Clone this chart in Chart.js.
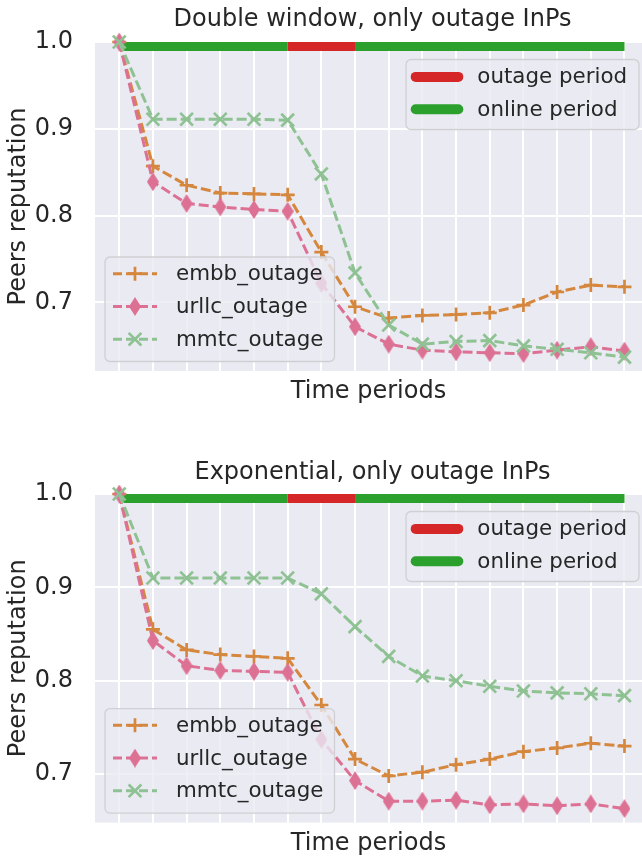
<!DOCTYPE html>
<html><head><meta charset="utf-8">
<script src="https://cdn.jsdelivr.net/npm/chart.js@4/dist/chart.umd.min.js"></script>
<style>
html,body{margin:0;padding:0;background:#fff;overflow:hidden;width:642px;height:859px;}
canvas{position:absolute;left:0;}
#c1{top:0px}
#c2{top:430px}
</style></head><body>
<canvas id="c1" width="642" height="430"></canvas>
<canvas id="c2" width="642" height="429"></canvas>
<script>
// ---- data ----
const periods = [0,1,2,3,4,5,6,7,8,9,10,11,12,13,14,15];
const yTicks = [0.7, 0.8, 0.9, 1.0];
const seriesNames = ['embb_outage','urllc_outage','mmtc_outage'];

// Double window, only outage InPs
const dwEmbb  = [1.0,0.857,0.835,0.826,0.825,0.824,0.758,0.695,0.682,0.685,0.686,0.688,0.697,0.712,0.720,0.718];
const dwUrllc = [1.0,0.839,0.814,0.810,0.807,0.805,0.722,0.672,0.652,0.645,0.643,0.642,0.641,0.645,0.649,0.644];
const dwMmtc  = [1.0,0.911,0.911,0.911,0.911,0.910,0.848,0.734,0.674,0.652,0.655,0.656,0.650,0.646,0.642,0.637];

// Exponential, only outage InPs
const exEmbb  = [1.0,0.855,0.833,0.828,0.826,0.824,0.774,0.716,0.698,0.702,0.710,0.716,0.724,0.728,0.733,0.730];
const exUrllc = [1.0,0.843,0.816,0.811,0.810,0.809,0.737,0.693,0.671,0.671,0.672,0.667,0.668,0.666,0.668,0.663];
const exMmtc  = [1.0,0.910,0.910,0.910,0.910,0.910,0.893,0.858,0.826,0.805,0.800,0.794,0.789,0.787,0.786,0.784];

// period bar: online / outage intervals (in periods)
const periodLevel = 1.0;
const onlineIntervals = [[0,5],[7,15]];
const outageIntervals = [[5,7]];
const periodLabels = ['outage period','online period'];

// ---- styles ----
const TEXT = '#262626';
const FONT = "'DejaVu Sans', sans-serif";
const BIG = 24, LEG = 21.4;
const COLORS = ['#d5873e', '#dd7194', '#8fc293'];
const RED = '#d62728', GREEN = '#2ca02c';
Chart.defaults.font.family = FONT;
Chart.defaults.color = TEXT;

function thinDiamond(color, w, h) {
  const c = document.createElement('canvas');
  c.width = w; c.height = h;
  const g = c.getContext('2d');
  g.fillStyle = color;
  g.beginPath(); g.moveTo(w/2,0); g.lineTo(w,h/2); g.lineTo(w/2,h); g.lineTo(0,h/2); g.closePath(); g.fill();
  return c;
}
const diamondImg = thinDiamond(COLORS[1], 12, 19);
const markers = [
  {pointStyle:'cross', pointRadius:7, pointBorderWidth:2.7},
  {pointStyle:diamondImg, pointRadius:8, pointBorderWidth:0},
  {pointStyle:'crossRot', pointRadius:9, pointBorderWidth:2.7}
];

function intervalData(intervals) {
  const out = [];
  intervals.forEach((iv, k) => {
    if (k > 0) out.push({x:(intervals[k-1][1]+iv[0])/2, y:null});
    out.push({x:iv[0], y:periodLevel});
    out.push({x:iv[1], y:periodLevel});
  });
  return out;
}

function drawMarker(ctx, k, x, y) {
  const c = COLORS[k];
  ctx.save();
  ctx.setLineDash([]);
  ctx.strokeStyle = c; ctx.lineWidth = 2.7;
  if (k === 0) {
    ctx.beginPath(); ctx.moveTo(x-7,y); ctx.lineTo(x+7,y); ctx.moveTo(x,y-7); ctx.lineTo(x,y+7); ctx.stroke();
  } else if (k === 1) {
    ctx.drawImage(diamondImg, x-6, y-9.5);
  } else {
    const r = 9*Math.SQRT1_2;
    ctx.beginPath(); ctx.moveTo(x-r,y-r); ctx.lineTo(x+r,y+r); ctx.moveTo(x-r,y+r); ctx.lineTo(x+r,y-r); ctx.stroke();
  }
  ctx.restore();
}

function roundRect(ctx, x, y, w, h, r) {
  ctx.beginPath();
  ctx.moveTo(x+r,y); ctx.lineTo(x+w-r,y); ctx.arcTo(x+w,y,x+w,y+r,r);
  ctx.lineTo(x+w,y+h-r); ctx.arcTo(x+w,y+h,x+w-r,y+h,r);
  ctx.lineTo(x+r,y+h); ctx.arcTo(x,y+h,x,y+h-r,r);
  ctx.lineTo(x,y+r); ctx.arcTo(x,y,x+r,y,r); ctx.closePath();
}

function legendBox(ctx, x, y, w, h) {
  ctx.save();
  roundRect(ctx, x, y, w, h, 5);
  ctx.fillStyle = 'rgba(234,234,242,0.8)';
  ctx.fill();
  ctx.lineWidth = 1.3; ctx.strokeStyle = '#cfcfd4';
  ctx.stroke();
  ctx.restore();
}

const bgPlugin = {
  id: 'plotBg',
  beforeDraw(chart) {
    const a = chart.chartArea, ctx = chart.ctx;
    ctx.save(); ctx.fillStyle = '#eaeaf2';
    ctx.fillRect(a.left, a.top, a.right - a.left, a.bottom - a.top);
    ctx.restore();
  }
};

const overlayPlugin = {
  id: 'overlay',
  afterDraw(chart, args, opts) {
    const ctx = chart.ctx, a = chart.chartArea;
    ctx.save();
    ctx.font = BIG + 'px ' + FONT;
    ctx.fillStyle = TEXT;
    ctx.textBaseline = 'middle';
    ctx.textAlign = 'center';
    ctx.fillText(opts.title, opts.titleX, opts.titleY);

    ctx.font = LEG + 'px ' + FONT;
    // series legend (lower left)
    const lx = a.left + 10, lw = 229.5, lh = 104.5, ly = a.bottom - 9.5 - lh;
    legendBox(ctx, lx, ly, lw, lh);
    const rows = [16.7, 49.5, 82.2];
    ctx.textAlign = 'left';
    seriesNames.forEach((name, k) => {
      const yy = ly + rows[k];
      ctx.save();
      ctx.strokeStyle = COLORS[k]; ctx.lineWidth = 3; ctx.setLineDash([9,4]);
      ctx.beginPath(); ctx.moveTo(lx+8, yy); ctx.lineTo(lx+52, yy); ctx.stroke();
      ctx.restore();
      drawMarker(ctx, k, lx+30, yy);
      ctx.fillStyle = TEXT;
      ctx.fillText(name, lx+71, yy+1);
    });

    // period legend (upper right)
    const px = 406, pw = 233, ph = 70, py = a.top + 17.5;
    legendBox(ctx, px, py, pw, ph);
    const prow = [17.4, 49.7];
    [RED, GREEN].forEach((c, k) => {
      const yy = py + prow[k];
      ctx.save();
      ctx.strokeStyle = c; ctx.lineWidth = 10; ctx.lineCap = 'round';
      ctx.beginPath(); ctx.moveTo(px+9.7, yy); ctx.lineTo(px+52.3, yy); ctx.stroke();
      ctx.restore();
      ctx.fillStyle = TEXT;
      ctx.fillText(periodLabels[k], px+71.3, yy+1);
    });
    ctx.restore();
  }
};

function makeChart(id, title, titleY, vals, yMin, padTop, xHeight, xTitlePad) {
  const datasets = [
    {data: intervalData(onlineIntervals), borderColor: GREEN, borderWidth: 18, borderCapStyle:'butt',
     pointRadius: 0, clip: 0, order: 10, spanGaps: false},
    {data: intervalData(outageIntervals), borderColor: RED, borderWidth: 18, borderCapStyle:'butt',
     pointRadius: 0, clip: 0, order: 9, spanGaps: false}
  ];
  vals.forEach((arr, k) => {
    datasets.push(Object.assign({
      label: seriesNames[k],
      data: periods.map((p, i) => ({x: p, y: arr[i]})),
      borderColor: COLORS[k], backgroundColor: COLORS[k], pointBorderColor: COLORS[k],
      borderWidth: 3, borderDash: [10,4], tension: 0, clip: false, order: 3 - k
    }, markers[k]));
  });
  return new Chart(document.getElementById(id), {
    type: 'line',
    data: {datasets},
    options: {
      responsive: false, animation: false, devicePixelRatio: 1, events: [],
      layout: {autoPadding: false, padding: {top: padTop, left: 0, right: 0, bottom: 0}},
      plugins: {
        legend: {display: false}, tooltip: {enabled: false}, title: {display: false},
        overlay: {title, titleX: 372.5, titleY}
      },
      scales: {
        x: {
          type: 'linear', min: -0.72, max: 15.52,
          afterBuildTicks: s => { s.ticks = periods.map(v => ({value: v})); },
          afterFit: s => { s.height = xHeight; },
          ticks: {display: false},
          grid: {color: '#ffffff', lineWidth: 2, drawTicks: false},
          border: {display: false},
          title: {display: true, text: 'Time periods', color: TEXT,
                  font: {size: BIG, family: FONT}, padding: {top: 0, bottom: xTitlePad}}
        },
        y: {
          type: 'linear', min: yMin, max: 1.0,
          afterBuildTicks: s => { s.ticks = yTicks.map(v => ({value: v})); },
          afterFit: s => { s.width = 95; },
          ticks: {padding: 22, color: TEXT, font: {size: BIG, family: FONT},
                  callback: v => Number(v).toFixed(1)},
          grid: {color: '#ffffff', lineWidth: 2, drawTicks: false},
          border: {display: false},
          title: {display: true, text: 'Peers reputation', color: TEXT,
                  font: {size: BIG, family: FONT}, padding: {top: 4.1, bottom: 0}}
        }
      }
    },
    plugins: [bgPlugin, overlayPlugin]
  });
}

makeChart('c1', 'Double window, only outage InPs', 20, [dwEmbb, dwUrllc, dwMmtc], 0.621, 42, 59, 23.6);
makeChart('c2', 'Exponential, only outage InPs', 43, [exEmbb, exUrllc, exMmtc], 0.648, 64, 35, -1);
</script>
</body></html>
